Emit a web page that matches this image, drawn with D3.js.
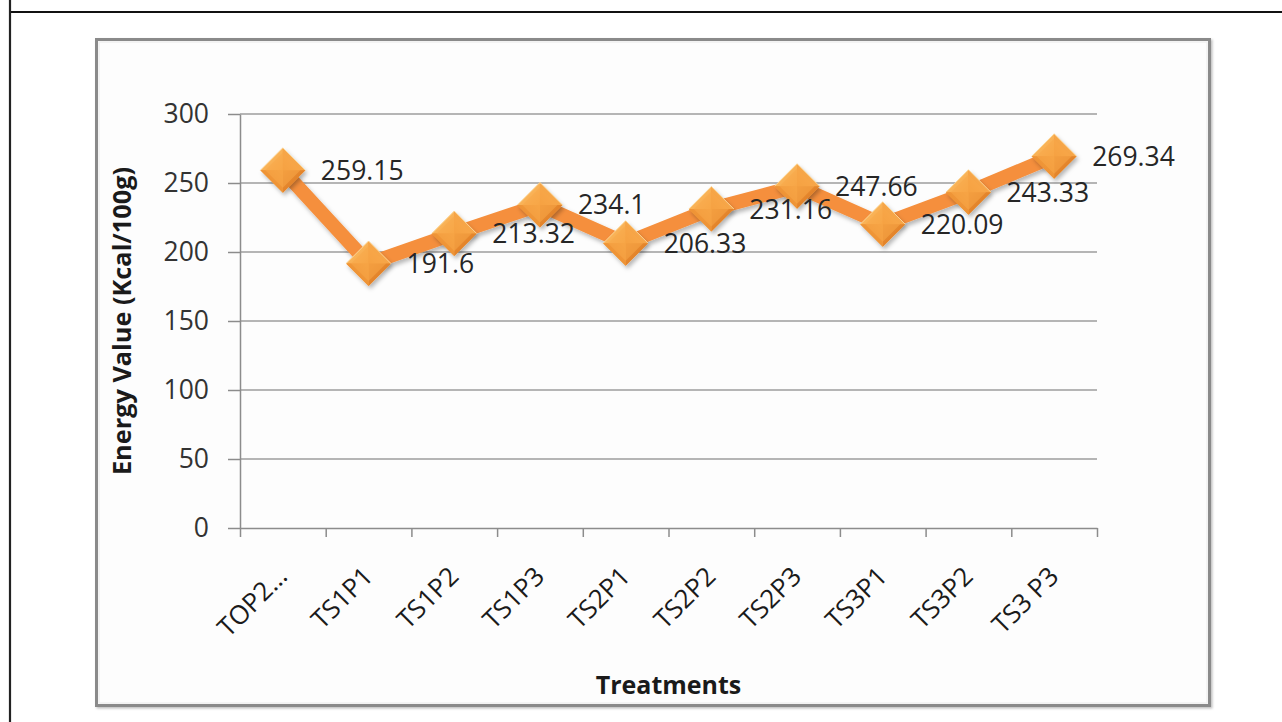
<!DOCTYPE html>
<html><head><meta charset="utf-8">
<script src="https://cdn.jsdelivr.net/npm/d3@7"></script>
<style>body{margin:0;background:#fff}svg{display:block}</style>
</head><body><svg id="c" width="1282" height="722"></svg>
<script>
const categories = ["TOP2…","TS1P1","TS1P2","TS1P3","TS2P1","TS2P2","TS2P3","TS3P1","TS3P2","TS3 P3"];
const energyValues = [259.15,191.6,213.32,234.1,206.33,231.16,247.66,220.09,243.33,269.34];
const yTicks = [0,50,100,150,200,250,300];
const yTitle = "Energy Value (Kcal/100g)";
const xTitle = "Treatments";

const svg = d3.select("#c");
const FONT = "'Open Sans', 'DejaVu Sans', sans-serif";

// page frame lines
svg.append("line").attr("x1",10).attr("x2",1282).attr("y1",12).attr("y2",12).attr("stroke","#111").attr("stroke-width",2.2);
svg.append("line").attr("x1",10).attr("x2",10).attr("y1",0).attr("y2",722).attr("stroke","#222").attr("stroke-width",2.2);

const defs = svg.append("defs");
const sh = defs.append("filter").attr("id","sh").attr("x","-30%").attr("y","-30%").attr("width","160%").attr("height","160%");
sh.append("feDropShadow").attr("dx",2).attr("dy",3).attr("stdDeviation",2.2).attr("flood-color","#000").attr("flood-opacity",0.28);
const bsh = defs.append("filter").attr("id","bsh").attr("x","-5%").attr("y","-5%").attr("width","110%").attr("height","110%");
bsh.append("feDropShadow").attr("dx",1.5).attr("dy",1.5).attr("stdDeviation",1).attr("flood-color","#000").attr("flood-opacity",0.25);

// chart box
svg.append("rect").attr("x",96.5).attr("y",39.5).attr("width",1113).attr("height",666)
  .attr("fill","#fdfdfd").attr("stroke","#8a8a8a").attr("stroke-width",3).attr("filter","url(#bsh)");
svg.append("rect").attr("x",99).attr("y",42).attr("width",1108).attr("height",661)
  .attr("fill","none").attr("stroke","#f0f0f0").attr("stroke-width",1.5);

const x = d3.scaleBand().domain(categories).range([240,1097]).padding(0);
const xi = d3.scaleLinear().domain([0,categories.length]).range([240,1097]);
const y = d3.scaleLinear().domain([0,300]).range([528,114]);
const cx = c => x(c) + x.bandwidth()/2;

// gridlines
svg.append("g").selectAll("line").data(yTicks.filter(t=>t>0)).join("line")
  .attr("x1",240).attr("x2",1097).attr("y1",d=>y(d)).attr("y2",d=>y(d))
  .attr("stroke","#9c9c9c").attr("stroke-width",1.3);

// y axis
const ya = svg.append("g").attr("transform","translate(240,0)")
  .call(d3.axisLeft(y).tickValues(yTicks).tickSize(12).tickSizeOuter(0).tickPadding(19));
ya.select(".domain").attr("stroke","#8c8c8c").attr("stroke-width",1.5);
ya.selectAll(".tick line").attr("stroke","#8c8c8c").attr("stroke-width",1.5);
ya.selectAll(".tick text").attr("font-family",FONT).attr("font-size",26.5).attr("fill","#333");

// x axis
const xa = svg.append("g").attr("transform","translate(0,528)")
  .call(d3.axisBottom(xi).tickValues(d3.range(categories.length+1)).tickFormat("").tickSize(9).tickSizeOuter(0));
xa.select(".domain").attr("stroke","#8c8c8c").attr("stroke-width",1.5);
xa.selectAll(".tick line").attr("stroke","#8c8c8c").attr("stroke-width",1.5);

// x labels rotated
svg.append("g").selectAll("text").data(categories).join("text")
  .attr("transform",d=>`translate(${cx(d)+6},578) rotate(-45)`)
  .attr("text-anchor","end").attr("font-family",FONT).attr("font-size",26).attr("fill","#1a1a1a")
  .text(d=>d);

// titles
svg.append("text").attr("x",(240+1097)/2).attr("y",694).attr("text-anchor","middle")
  .attr("font-family",FONT).attr("font-weight","bold").attr("font-size",25).attr("fill","#1a1a1a").text(xTitle);
svg.append("text").attr("transform",`translate(131,${(114+528)/2}) rotate(-90)`).attr("text-anchor","middle")
  .attr("font-family",FONT).attr("font-weight","bold").attr("font-size",25.3).attr("fill","#1a1a1a").text(yTitle);

// line
const pts = categories.map((c,i)=>({c, v: energyValues[i]}));
svg.append("path").datum(pts)
  .attr("d", d3.line().x(d=>cx(d.c)).y(d=>y(d.v)))
  .attr("fill","none").attr("stroke","#f58f3c").attr("stroke-width",14).attr("stroke-linejoin","miter")
  .attr("filter","url(#sh)");

// marker gradients (bevelled diamond facets)
function grad(id, c1, c2, x1,y1,x2,y2){
  const g = defs.append("linearGradient").attr("id",id).attr("x1",x1).attr("y1",y1).attr("x2",x2).attr("y2",y2);
  g.append("stop").attr("offset","0%").attr("stop-color",c1);
  g.append("stop").attr("offset","100%").attr("stop-color",c2);
}
grad("fTL","#fcc46e","#f7a444",0,0,1,1);
grad("fTR","#fab45a","#f39a3a",1,0,0,1);
grad("fBL","#f4a040","#e8862b",1,0,0,1);
grad("fBR","#ed9335","#d8731f",0,0,1,1);
const R = 22.5, r = 5;
const facets = [
  {f:"url(#fTL)", p:[[-R,0],[0,-R],[0,0]]},
  {f:"url(#fTR)", p:[[0,-R],[R,0],[0,0]]},
  {f:"url(#fBR)", p:[[R,0],[0,R],[0,0]]},
  {f:"url(#fBL)", p:[[0,R],[-R,0],[0,0]]}
];
const mk = svg.append("g").selectAll("g").data(pts).join("g")
  .attr("transform",d=>`translate(${cx(d.c)},${y(d.v)})`);
mk.append("path").attr("d",`M${-R},0L0,${-R}L${R},0L0,${R}Z`).attr("fill","#f29a3c").attr("filter","url(#sh)");
facets.forEach(ft=>{
  mk.append("path").attr("d","M"+ft.p.map(q=>q.join(",")).join("L")+"Z").attr("fill",ft.f);
});
mk.append("path").attr("d",`M${-R+r},0L0,${-R+r}L${R-r},0L0,${R-r}Z`).attr("fill","#f8a849").attr("opacity",0.55);
mk.append("path").attr("d",`M${-R},0L0,${-R}L${R},0`).attr("fill","none").attr("stroke","#fde0a8").attr("stroke-width",1).attr("opacity",0.8);

// data labels
svg.append("g").selectAll("text").data(pts).join("text")
  .attr("x",d=>cx(d.c)+38).attr("y",d=>y(d.v)).attr("dy","0.36em")
  .attr("font-family",FONT).attr("font-size",26.5).attr("fill","#262626")
  .text(d=>d.v);
</script></body></html>
